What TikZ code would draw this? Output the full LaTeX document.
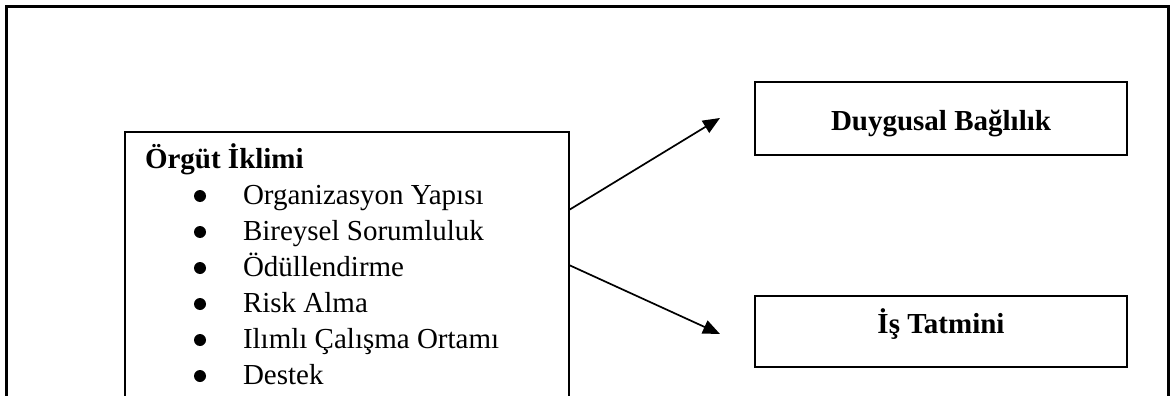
\documentclass[tikz,border=0pt]{standalone}
\usepackage{fontspec}
\setmainfont{Liberation Serif}
\usetikzlibrary{arrows.meta}
\begin{document}
\begin{tikzpicture}[x=1pt,y=-1pt,
  frameline/.style={line width=3pt,line join=miter},
  boxnode/.style={draw,line width=1.8pt,rectangle,inner sep=0pt,outer sep=0pt},
  txt/.style={inner sep=0pt,outer sep=0pt,anchor=base west,font=\fontsize{29}{35}\selectfont},
  btxt/.style={inner sep=0pt,outer sep=0pt,anchor=base,font=\fontsize{29}{35}\selectfont\bfseries},
  conn/.style={line width=1.7pt,-{Triangle[length=17pt,width=14pt]}},
  dot/.style={circle,fill,inner sep=0pt,minimum size=12pt}]
\useasboundingbox (0,0) rectangle (1173,396);
\clip (0,0) rectangle (1173,396);
% outer frame
\draw[frameline] (6.5,430) |- (1168.5,7) -- (1168.5,430);
% left box
\node[boxnode,minimum width=444pt,minimum height=300pt,anchor=north west] (lbox) at (125,132) {};
\node[txt,font=\fontsize{29}{35}\selectfont\bfseries] (title) at (145,168) {Örgüt İklimi};
\foreach \t/\y/\n in {Organizasyon Yapısı/204/i1,Bireysel Sorumluluk/240/i2,Ödüllendirme/276/i3,Risk Alma/312/i4,Ilımlı Çalışma Ortamı/348/i5,Destek/384/i6}{
  \node[dot] (b\n) at (200,\y-8) {};
  \node[txt] (\n) at (243,\y) {\t};
}
% right boxes
\node[boxnode,minimum width=372pt,minimum height=73pt] (dbox) at (941,118.5) {};
\node[btxt] (dtext) at (941,130) {Duygusal Bağlılık};
\node[boxnode,minimum width=372pt,minimum height=71pt] (ibox) at (941,331.5) {};
\node[btxt] (itext) at (941,333) {İş Tatmini};
% connectors
\coordinate (t1) at (720,118);
\coordinate (t2) at (720,334);
\draw[conn] ([yshift=-78pt]lbox.north east) -- (t1);
\draw[conn] ([yshift=-133pt]lbox.north east) -- (t2);
\end{tikzpicture}
\end{document}
